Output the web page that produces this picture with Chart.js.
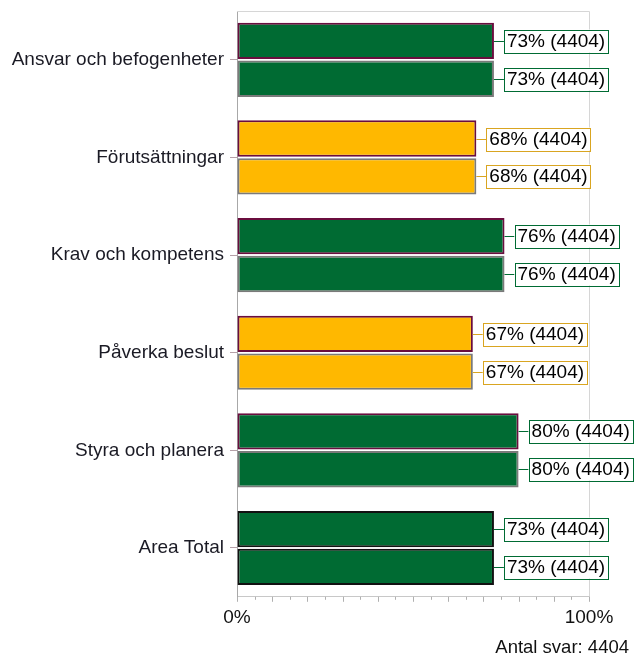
<!DOCTYPE html>
<html>
<head>
<meta charset="utf-8">
<script src="https://cdn.jsdelivr.net/npm/chart.js@4/dist/chart.umd.min.js"></script>
<style>
  body { margin: 0; background: #fff; }
  #wrap { width: 640px; height: 665px; }
</style>
</head>
<body>
<div id="wrap"><canvas id="myChart"></canvas></div>
<script>
var categories = ['Ansvar och befogenheter', 'Förutsättningar', 'Krav och kompetens', 'Påverka beslut', 'Styra och planera', 'Area Total'];
var values1 = [73, 68, 76, 67, 80, 73];
var values2 = [73, 68, 76, 67, 80, 73];
var counts1 = [4404, 4404, 4404, 4404, 4404, 4404];
var counts2 = [4404, 4404, 4404, 4404, 4404, 4404];
var barColors = ['#006b33', '#ffb800', '#006b33', '#ffb800', '#006b33', '#006b33'];
var boxColors = ['#006b33', '#d9a521', '#006b33', '#d9a521', '#006b33', '#006b33'];
var border1 = ['#6a0d3e', '#6a0d3e', '#6a0d3e', '#6a0d3e', '#6a0d3e', '#111111'];
var border2 = ['#7a7a7a', '#7a7a7a', '#7a7a7a', '#7a7a7a', '#7a7a7a', '#111111'];
var totalAnswers = 'Antal svar: 4404';

var FONT = '"Liberation Sans", Arial, sans-serif';

// value boxes with a short leader line, plot frame, x tick marks
var decorations = {
    id: 'decorations',
    beforeDatasetsDraw: function(chart) {
        var c = chart.ctx, a = chart.chartArea;
        c.save();
        c.strokeStyle = '#d6d6d6';
        c.lineWidth = 1;
        c.beginPath();
        c.moveTo(a.left, a.top + 0.5);
        c.lineTo(a.right + 0.5, a.top + 0.5);
        c.lineTo(a.right + 0.5, a.bottom);
        c.stroke();
        c.restore();
    },
    afterDatasetsDraw: function(chart) {
        var c = chart.ctx, a = chart.chartArea;
        var xs = chart.scales.x;
        c.save();
        // x tick marks, longer every 10 %
        c.strokeStyle = '#b0b0b0';
        c.lineWidth = 1;
        for (var v = 0; v <= 100; v += 5) {
            var px = Math.round(xs.getPixelForValue(v)) + 0.5;
            c.beginPath();
            c.moveTo(px, a.bottom);
            c.lineTo(px, a.bottom + (v % 10 === 0 ? 5 : 3));
            c.stroke();
        }
        // value labels
        c.font = '19px ' + FONT;
        c.textBaseline = 'middle';
        var counts = [counts1, counts2];
        chart.data.datasets.forEach(function(ds, di) {
            chart.getDatasetMeta(di).data.forEach(function(el, i) {
                var txt = ds.data[i] + '% (' + counts[di][i] + ')';
                var w = c.measureText(txt).width + 6;
                var h = 23;
                var x0 = el.x + 10;
                var y = Math.round(el.y);
                c.strokeStyle = boxColors[i];
                c.lineWidth = 1;
                c.beginPath();
                c.moveTo(el.x, y + 0.5);
                c.lineTo(x0, y + 0.5);
                c.stroke();
                c.fillStyle = '#fff';
                c.fillRect(x0, y - h / 2, w, h);
                c.strokeRect(Math.round(x0) + 0.5, Math.round(y - h / 2) + 0.5, Math.round(w), h);
                c.fillStyle = '#000';
                c.fillText(txt, x0 + 3, y + 1);
            });
        });
        c.restore();
    }
};

var ctx = document.getElementById('myChart').getContext('2d');
var chart = new Chart(ctx, {
    type: 'bar',
    data: {
        labels: categories,
        datasets: [{
            data: values1,
            backgroundColor: barColors,
            borderColor: border1,
            borderWidth: 2,
            borderSkipped: false
        }, {
            data: values2,
            backgroundColor: barColors,
            borderColor: border2,
            borderWidth: 2,
            borderSkipped: false
        }]
    },
    plugins: [decorations],
    options: {
        indexAxis: 'y',
        responsive: true,
        maintainAspectRatio: false,
        animation: false,
        categoryPercentage: 0.775,
        barPercentage: 0.96,
        layout: { padding: { top: 11, right: 11, left: 0, bottom: 0 } },
        plugins: {
            legend: { display: false },
            tooltip: { enabled: false },
            title: {
                display: true,
                text: totalAnswers,
                position: 'bottom',
                align: 'end',
                color: '#111',
                font: { family: FONT, size: 18.5, weight: 'normal' },
                padding: { top: 0, bottom: 6 }
            }
        },
        scales: {
            x: {
                min: 0,
                max: 100,
                afterFit: function(s) { s.height = 40; s.paddingRight = 51; },
                grid: { display: true, drawOnChartArea: false, drawTicks: true, tickLength: 6, color: 'rgba(0,0,0,0)' },
                border: { display: true, color: '#c8c8c8' },
                ticks: {
                    stepSize: 5,
                    autoSkip: false,
                    maxRotation: 0,
                    padding: 4,
                    color: '#111',
                    font: { family: FONT, size: 19 },
                    callback: function(v) { return (v === 0 || v === 100) ? v + '%' : ''; }
                }
            },
            y: {
                afterFit: function(s) { s.width = 237; s.paddingTop = 0; s.paddingBottom = 0; },
                grid: { display: true, offset: false, drawOnChartArea: false, drawTicks: true, tickLength: 7, color: '#b5a0a8' },
                border: { display: true, color: '#a8a8a8' },
                ticks: {
                    padding: 6,
                    color: '#1a1a24',
                    font: { family: FONT, size: 19 }
                }
            }
        }
    }
});
</script>
</body>
</html>
